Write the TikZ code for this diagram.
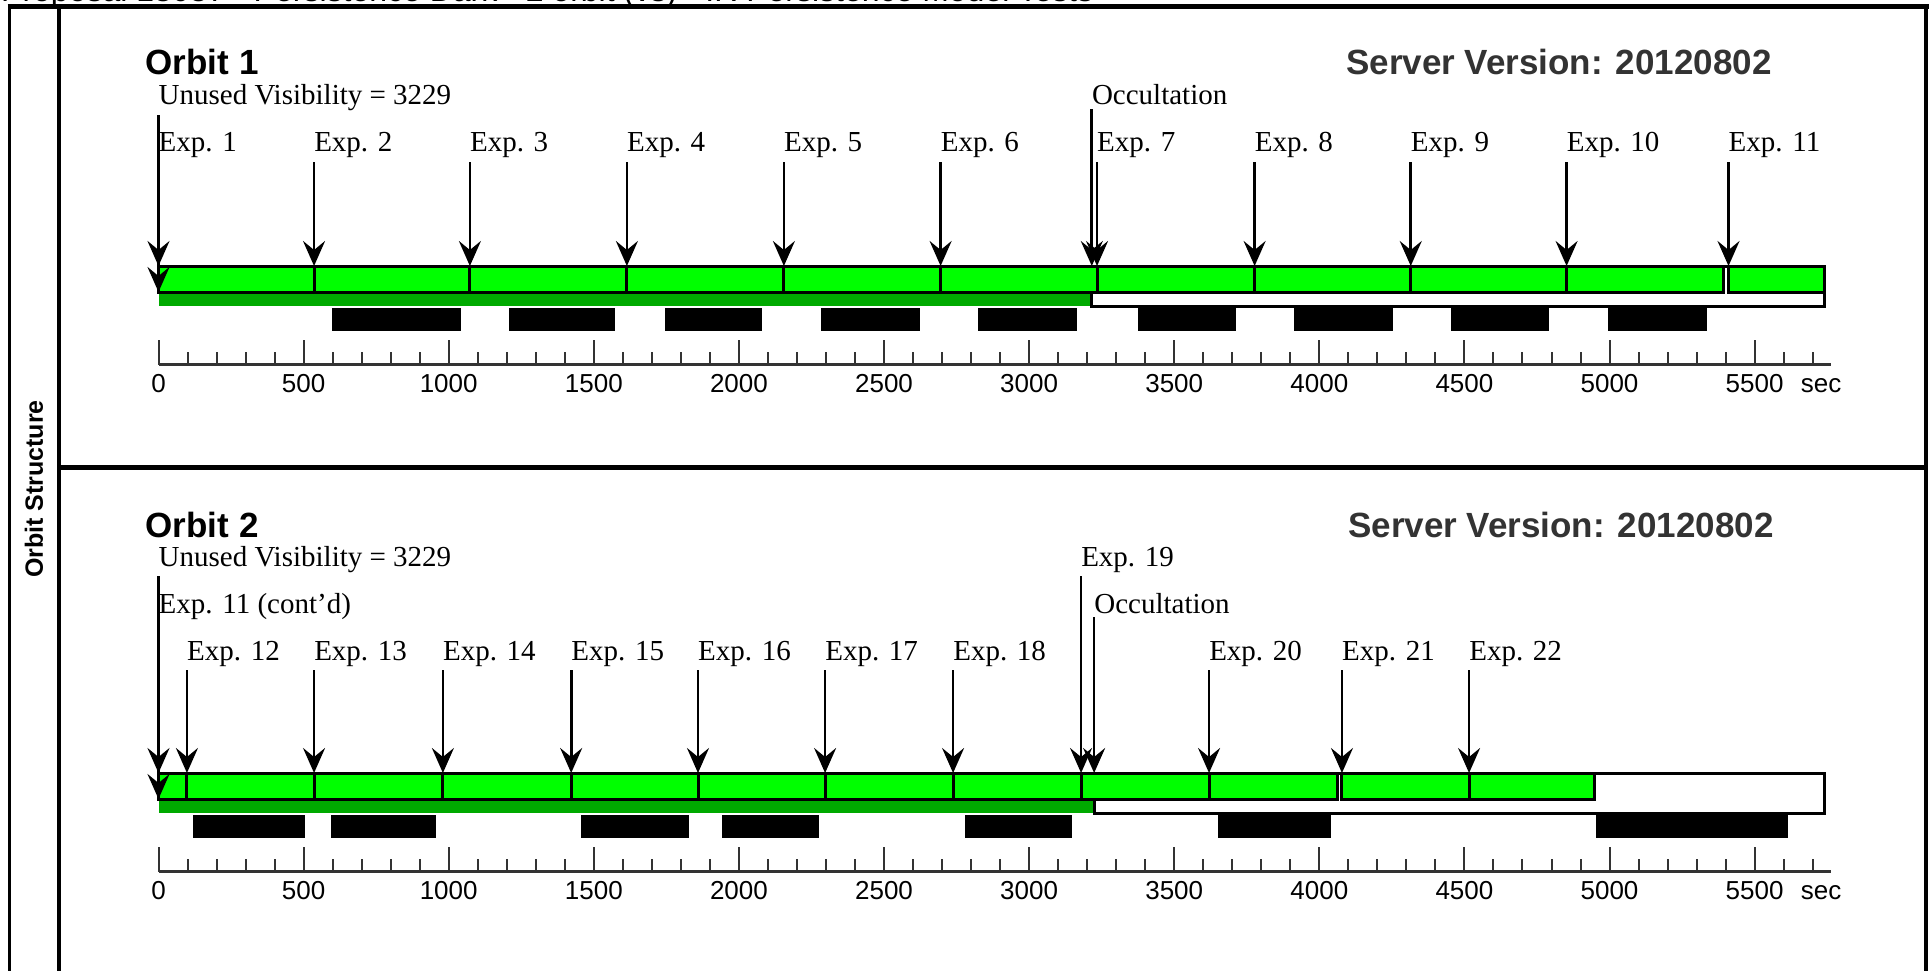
\documentclass[tikz,border=0pt]{standalone}
\usepackage{fontspec}
\setmainfont{Liberation Serif}
\setsansfont{Liberation Sans}
\usetikzlibrary{arrows.meta}

\definecolor{expgreen}{RGB}{0,255,0}
\definecolor{visgreen}{RGB}{0,170,0}
\definecolor{axisgray}{RGB}{51,51,51}

\tikzset{
  explabel/.style={anchor=base west, inner sep=0pt, font=\fontsize{29}{30}\selectfont},
  expline/.style={line width=2.7pt, -{Stealth[length=25pt,width=22pt,inset=9pt]}},
  expbox/.style={fill=expgreen, draw=black, line width=3pt},
  orbitedge/.style={draw=black, line width=3pt},
  axisline/.style={draw=axisgray, line width=3pt},
  tickline/.style={draw=axisgray, line width=2pt},
  ticklabel/.style={anchor=base, inner sep=0pt, font=\sffamily\fontsize{26}{26}\selectfont},
  orbittitle/.style={anchor=base west, inner sep=0pt, font=\sffamily\bfseries\fontsize{35}{35}\selectfont},
}

\begin{document}
\begin{tikzpicture}[x=1pt, y=-1pt]
  \useasboundingbox (0,0) rectangle (1931,971);
  \fill[white] (0,0) rectangle (1931,971);

  % ================= header and frame =================
  \node[anchor=base west, inner sep=0pt, font=\sffamily\fontsize{32}{32}\selectfont] (header) at (1,2)
    {Proposal 13087 - Persistence Dark - 2 orbit (vs) - IR Persistence Model Tests};
  \draw[line width=5pt] (7.5,6.5) -- (1928.5,6.5);
  \draw[line width=3pt] (9,6.5) -- (9,975);
  \draw[line width=3.5pt] (59,6.5) -- (59,975);
  \draw[line width=4.5pt] (1926,6.5) -- (1926,975);
  \draw[line width=4.5pt] (59,467.5) -- (1926,467.5);
  \node[rotate=90, inner sep=0pt, font=\sffamily\bfseries\fontsize{25}{25}\selectfont] (column) at (34,489) {Orbit Structure};

  % titles
  \node[orbittitle] (o1title) at (145.5,75) {Orbit 1};
  \node[orbittitle, text=axisgray] (o1server) at (1346,75) {Server Version: 20120802};
  \node[orbittitle] (o2title) at (145.5,537) {Orbit 2};
  \node[orbittitle, text=axisgray] (o2server) at (1348,537) {Server Version: 20120802};

  % ================= Orbit 1 (x in sec) =================
  \begin{scope}[x=0.2902pt, xshift=158.5pt]
    % 1. visibility strip and occultation outline
    \fill[visgreen] (0,292) rectangle (3216,305.5);
    \draw[orbitedge] (3216,292) -- (3216,306) -- (5739,306) -- (5739,266) -- (0,266);
    % 2. exposures
    \foreach \num/\ts/\te in {1/0/536, 2/536/1073, 3/1073/1614, 4/1614/2155, 5/2155/2695, 6/2695/3234,
                              7/3234/3777, 8/3777/4315, 9/4315/4852, 10/4852/5393, 11/5410/5739}
      \filldraw[expbox] (\ts,266) rectangle (\te,292);
    % 3. black bars
    \foreach \ts/\te in {599/1043, 1208/1573, 1745/2080, 2283/2624, 2824/3165,
                         3375/3713, 3913/4254, 4454/4792, 4995/5336}
      \fill (\ts,308) rectangle (\te,331);
    % 4. time axis
    \foreach \tick in {0,100,...,5700}
      \draw[tickline] (\tick,352) -- (\tick,364.5);
    \foreach \tick in {0,500,...,5500} {
      \draw[tickline] (\tick,340) -- (\tick,364.5);
      \node[ticklabel] (o1t\tick) at (\tick,392) {\tick};
    }
    \draw[axisline] (0,364.5) -- (5763,364.5);
    \node[ticklabel] (o1sec) at (5729,392) {sec};
    % 5. labels and arrows
    \node[explabel] (o1vis) at (0,105) {Unused Visibility = 3229};
    \node[explabel] (o1occ) at (3216,105) {Occultation};
    \coordinate (o1visend) at (0,292);
    \coordinate (o1occend) at (3216,266);
    \draw[expline] ([yshift=-4pt]o1vis.south west) -- (o1visend);
    \draw[expline] ([yshift=-4pt]o1occ.south west) -- (o1occend);
    \foreach \num/\ts in {1/0, 2/536, 3/1073, 4/1614, 5/2155, 6/2695,
                          7/3234, 8/3777, 9/4315, 10/4852, 11/5410} {
      \node[explabel] (o1e\num) at (\ts,152) {Exp. \num};
      \coordinate (o1a\num) at (\ts,266);
      \draw[expline] ([yshift=-4pt]o1e\num.south west) -- (o1a\num);
    }
  \end{scope}

  % ================= Orbit 2 (x in sec) =================
  \begin{scope}[x=0.2902pt, xshift=158.5pt]
    % 1. visibility strip and occultation outline
    \fill[visgreen] (0,799) rectangle (3224,812.5);
    \draw[orbitedge] (3224,799) -- (3224,813) -- (5739,813) -- (5739,773) -- (0,773);
    % 2. exposures
    \foreach \num/\ts/\te in {11/0/98, 12/98/536, 13/536/980, 14/980/1422, 15/1422/1859, 16/1859/2297,
                              17/2297/2738, 18/2738/3179, 19/3179/3620, 20/3620/4062, 21/4078/4516, 22/4516/4947}
      \filldraw[expbox] (\ts,773) rectangle (\te,799);
    % 3. black bars
    \foreach \ts/\te in {119/505, 594/956, 1456/1828, 1942/2276, 2779/3148, 3651/4040, 4954/5616}
      \fill (\ts,815) rectangle (\te,838);
    % 4. time axis
    \foreach \tick in {0,100,...,5700}
      \draw[tickline] (\tick,859) -- (\tick,871.5);
    \foreach \tick in {0,500,...,5500} {
      \draw[tickline] (\tick,847) -- (\tick,871.5);
      \node[ticklabel] (o2t\tick) at (\tick,899) {\tick};
    }
    \draw[axisline] (0,871.5) -- (5763,871.5);
    \node[ticklabel] (o2sec) at (5729,899) {sec};
    % 5. labels and arrows
    \node[explabel] (o2vis) at (0,566) {Unused Visibility = 3229};
    \node[explabel] (o2cont) at (0,613) {Exp. 11 (cont'd)};
    \node[explabel] (o2e19) at (3179,566) {Exp. 19};
    \node[explabel] (o2occ) at (3224,613) {Occultation};
    \coordinate (o2visend) at (0,799);
    \coordinate (o2contend) at (0,773);
    \coordinate (o2a19) at (3179,773);
    \coordinate (o2occend) at (3224,773);
    \draw[expline] ([yshift=-4pt]o2vis.south west) -- (o2visend);
    \draw[expline] ([yshift=-4pt]o2cont.south west) -- (o2contend);
    \draw[expline] ([yshift=-4pt]o2e19.south west) -- (o2a19);
    \draw[expline] ([yshift=-4pt]o2occ.south west) -- (o2occend);
    \foreach \num/\ts in {12/98, 13/536, 14/980, 15/1422, 16/1859, 17/2297,
                          18/2738, 20/3620, 21/4078, 22/4516} {
      \node[explabel] (o2e\num) at (\ts,660) {Exp. \num};
      \coordinate (o2a\num) at (\ts,773);
      \draw[expline] ([yshift=-4pt]o2e\num.south west) -- (o2a\num);
    }
  \end{scope}
\end{tikzpicture}
\end{document}
